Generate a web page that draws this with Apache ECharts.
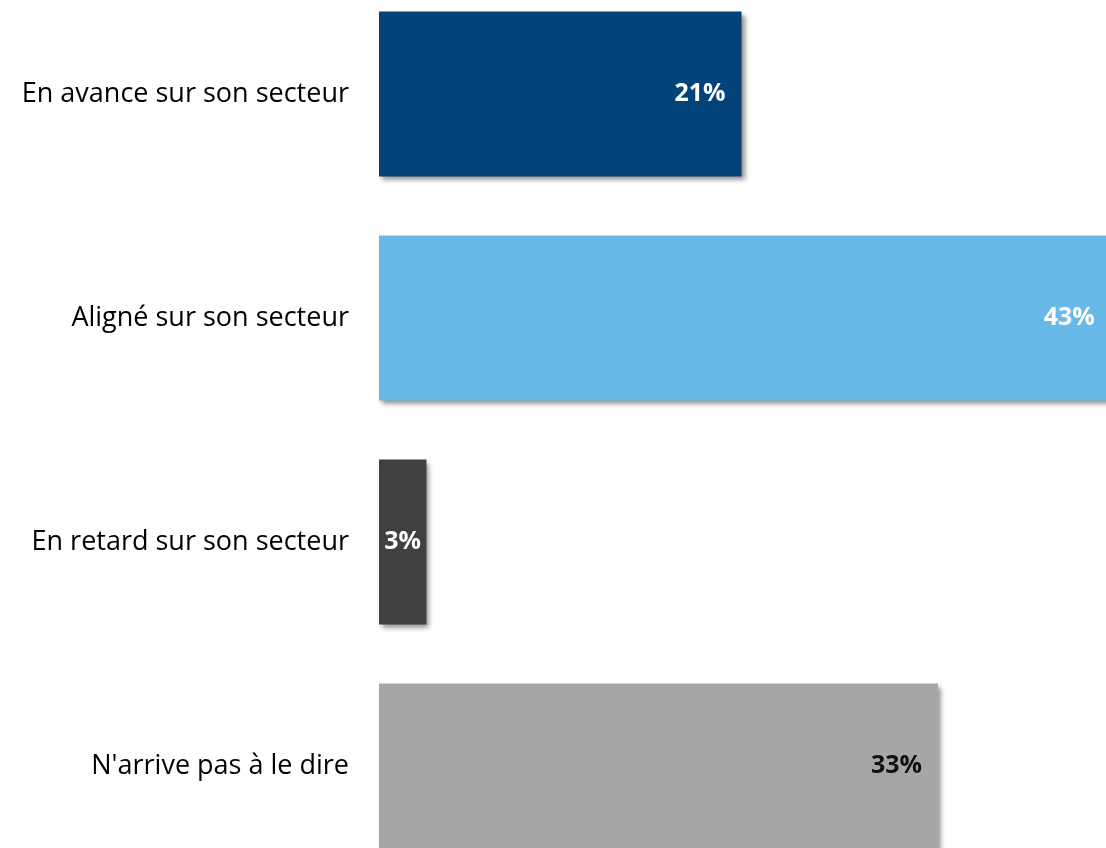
<!DOCTYPE html>
<html>
<head>
<meta charset="utf-8">
<script src="https://cdn.jsdelivr.net/npm/echarts@6/dist/echarts.min.js"></script>
<style>
html,body{margin:0;padding:0;background:#fff;overflow:hidden;width:1106px;height:848px;position:relative;}
#chart{position:absolute;left:0;top:-18px;width:1226px;height:896px;}
</style>
</head>
<body>
<div id="chart"></div>
<script>
const categories = ["En avance sur son secteur", "Aligné sur son secteur", "En retard sur son secteur", "N'arrive pas à le dire"];
const values = [21.4, 43.2, 2.8, 33.0];

const barColors = ["#03437A", "#68B8E8", "#404040", "#A6A6A6"];
const labelColors = ["#FFFFFF", "#FFFFFF", "#FFFFFF", "#111111"];
const labelPositions = ["insideRight", "insideRight", "inside", "insideRight"];

const chart = echarts.init(document.getElementById('chart'), null, {renderer: 'canvas'});
const option = {
  animation: false,
  backgroundColor: '#ffffff',
  grid: { left: 379, top: 0, right: 0, bottom: 0, containLabel: false },
  xAxis: {
    type: 'value', min: 0, max: 50,
    show: false,
    splitLine: { show: false }
  },
  yAxis: {
    type: 'category', data: categories, inverse: true,
    axisLine: { show: false }, axisTick: { show: false },
    axisLabel: { fontFamily: 'Open Sans', fontSize: 27, color: '#000000', margin: 30 }
  },
  series: [{
    type: 'bar',
    barWidth: 165,
    clip: false,
    data: values.map((v, i) => ({
      value: v,
      itemStyle: {
        color: barColors[i],
        shadowColor: 'rgba(0,0,0,0.45)', shadowBlur: 5, shadowOffsetX: 3, shadowOffsetY: 3
      },
      label: {
        show: true,
        position: labelPositions[i],
        distance: 16,
        color: labelColors[i],
        fontFamily: 'Open Sans', fontWeight: 'bold', fontSize: 25,
        formatter: p => Math.round(p.value) + '%'
      }
    }))
  }]
};
chart.setOption(option);
</script>
</body>
</html>
